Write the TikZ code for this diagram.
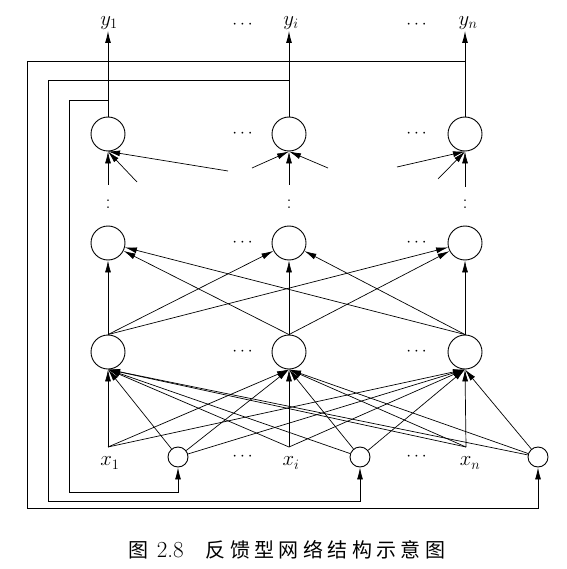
\documentclass[tikz,border=0pt]{standalone}
\usepackage{fontspec}
\usepackage{amsmath, amssymb}
\usepackage{tikz}
\usetikzlibrary{positioning,arrows.meta}
\newfontfamily\cjk[LetterSpace=22]{Noto Sans CJK SC}

\begin{document}
\begin{tikzpicture}[x=1pt,y=-1pt,line width=0.9pt,
	neuron/.style={circle,draw,minimum size=34pt,inner sep=0pt},
	unit/.style={circle,draw,minimum size=20pt,inner sep=0pt},
	arr/.style={-{Latex[length=12pt,width=6pt]}},
	lbl/.style={inner sep=1pt,font=\fontsize{20}{22}\selectfont},
	dots/.style={inner sep=0pt,font=\fontsize{17}{19}\selectfont}]

	\useasboundingbox (0,0) rectangle (566,569);

	% neurons
	\node[neuron] (t1) at (108,134) {};
	\node[neuron] (t2) at (289,134) {};
	\node[neuron] (t3) at (465,134) {};
	\node[neuron] (m1) at (108,243) {};
	\node[neuron] (m2) at (289,243) {};
	\node[neuron] (m3) at (465,243) {};
	\node[neuron] (b1) at (108,352) {};
	\node[neuron] (b2) at (289,352) {};
	\node[neuron] (b3) at (465,352) {};

	% inputs
	\coordinate (a1) at (108,447);
	\coordinate (ai) at (289,447);
	\coordinate (an) at (466,447);
	\node[lbl] (x1) at (110,463) {$x_1$};
	\node[lbl] (xi) at (291,463) {$x_i$};
	\node[lbl] (xn) at (470,463) {$x_n$};
	\node[unit] (s1) at (178,457) {};
	\node[unit] (s2) at (360,457) {};
	\node[unit] (s3) at (538,457) {};

	% outputs
	\node[lbl] (y1) at (109,23) {$y_1$};
	\node[lbl] (yi) at (291,23) {$y_i$};
	\node[lbl] (yn) at (468,23) {$y_n$};

	% dots
	\foreach \y [count=\k] in {25,134,243,352,457} {
		\node[dots] (dl\k) at (244,\y) {$\cdots$};
		\node[dots] (dr\k) at (418,\y) {$\cdots$};
	}
	\node[lbl] (v1) at (108,204) {:};
	\node[lbl] (v2) at (289,204) {:};
	\node[lbl] (v3) at (465,204) {:};

	% input layer
	\foreach \s in {a1,s1,ai,s2,an,s3}
		\foreach \t in {b1,b2,b3}
			\draw[arr,line width=0.7pt] (\s) -- (\t.south);

	% hidden layer
	\foreach \s in {b1,b2,b3}
		\foreach \t in {m1,m2,m3}
			\draw[arr,line width=0.7pt] (\s.north) -- (\t);

	% output layer
	\coordinate (p1) at (108,185);
	\coordinate (p2) at (137,182);
	\coordinate (p3) at (228,171);
	\coordinate (p4) at (252,168);
	\coordinate (p5) at (289,185);
	\coordinate (p6) at (328,168);
	\coordinate (p7) at (397,167);
	\coordinate (p8) at (438,179);
	\coordinate (p9) at (465,187);
	\foreach \s/\t in {p1/t1,p2/t1,p3/t1,p4/t2,p5/t2,p6/t2,p7/t3,p8/t3,p9/t3}
		\draw[arr,line width=0.7pt] (\s) -- (\t.south);

	\draw[arr,line width=1pt] (t1.north) -- (t1.north |- y1.south);
	\draw[arr,line width=1pt] (t2.north) -- (t2.north |- yi.south);
	\draw[arr,line width=1pt] (t3.north) -- (t3.north |- yn.south);

	% feedback
	\draw[arr,line width=0.8pt] (t1.north) ++(0,-16) -| (69,492) -| (s1.south);
	\draw[arr,line width=0.8pt] (t2.north) ++(0,-36) -| (48,501) -| (s2.south);
	\draw[arr,line width=0.8pt] (t3.north) ++(0,-55) -| (27,508) -| (s3.south);

	\node[font=\fontsize{20}{24}\selectfont] (cap) at (287,550)
		{{\cjk 图}\hspace{0.4em}{\fontsize{23}{24}\selectfont 2.8}\hspace{1.1em}{\cjk 反馈型网络结构示意图}};

\end{tikzpicture}
\end{document}
